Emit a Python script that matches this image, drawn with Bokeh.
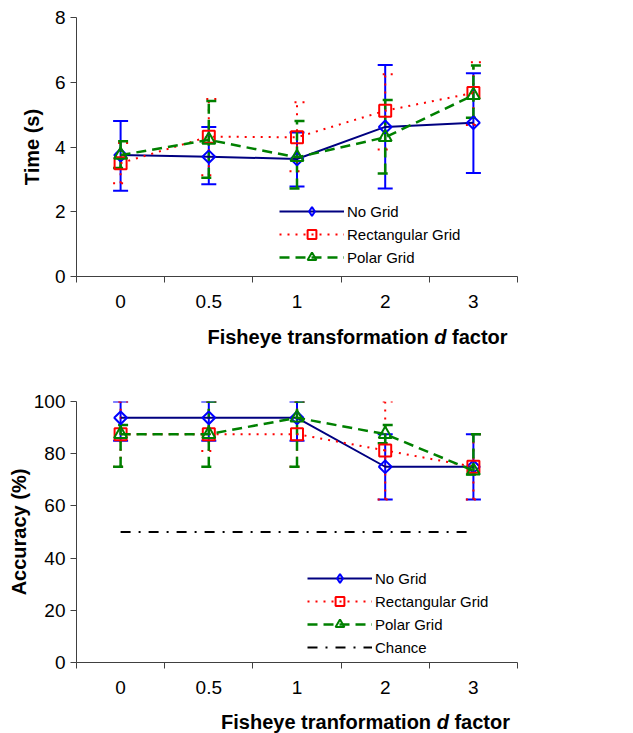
import math
from bokeh.plotting import figure
from bokeh.models import (ColumnDataSource, Whisker, TeeHead, FixedTicker, Legend,
                          LegendItem, Range1d)
from bokeh.core.properties import value
from bokeh.layouts import column
from bokeh.embed import file_html
from bokeh.resources import INLINE

# ---------------- data ----------------
d_labels = ["0", "0.5", "1", "2", "3"]

time_nogrid = [3.75, 3.70, 3.63, 4.62, 4.75]
time_nogrid_lo = [2.65, 2.85, 2.78, 2.72, 3.20]
time_nogrid_hi = [4.80, 4.62, 4.45, 6.53, 6.28]
time_rect = [3.50, 4.32, 4.30, 5.12, 5.67]
time_rect_lo = [2.88, 3.13, 3.25, 3.92, 4.68]
time_rect_hi = [4.12, 5.48, 5.38, 6.25, 6.62]
time_polar = [3.75, 4.22, 3.68, 4.30, 5.60]
time_polar_lo = [3.35, 3.05, 2.72, 3.18, 4.90]
time_polar_hi = [4.18, 5.42, 4.80, 5.45, 6.52]

acc_nogrid = [93.75, 93.75, 93.75, 75.0, 75.0]
acc_nogrid_lo = [85.0, 85.0, 85.0, 62.5, 62.5]
acc_nogrid_hi = [100.0, 100.0, 100.0, 87.5, 87.5]
acc_rect = [87.5, 87.5, 87.5, 81.25, 75.0]
acc_rect_lo = [75.0, 81.0, 75.0, 62.5, 62.5]
acc_rect_hi = [100.0, 100.0, 100.0, 100.0, 87.5]
acc_polar = [87.5, 87.5, 93.75, 87.5, 73.5]
acc_polar_lo = [75.0, 75.0, 75.0, 84.0, 72.0]
acc_polar_hi = [91.0, 100.0, 100.0, 91.0, 87.5]
acc_chance = [50.0, 50.0, 50.0, 50.0, 50.0]

time_ticks = [0, 2, 4, 6, 8]
acc_ticks = [0, 20, 40, 60, 80, 100]

series_names = ["No Grid", "Rectangular Grid", "Polar Grid", "Chance"]

# ---------------- styles / layout ----------------
FONT = "Liberation Sans"
AXIS_COLOR = "#404040"
TITLE_PX = 20
LEFT, FW, RIGHT = 76, 441, 116

STY = {
    "No Grid": dict(line="#000080", mark="#0000FF", dash="solid", lw=2, marker="square",
                    ms=9, angle=math.pi / 4, leg_marker="diamond"),
    "Rectangular Grid": dict(line="#FF0000", mark="#FF0000", dash="2 6", lw=2, marker="square",
                             ms=12, angle=0, leg_marker=None),
    "Polar Grid": dict(line="#008000", mark="#008000", dash="10 6", lw=2.5, marker="triangle",
                       ms=13, angle=0, leg_marker=None),
}

xs = list(range(len(d_labels)))


def make_fig(top, fh, bottom, ymax, yticks, ylabel, ylab_standoff):
    p = figure(frame_width=FW, frame_height=fh, min_border_left=LEFT, min_border_right=RIGHT,
               min_border_top=top, min_border_bottom=bottom,
               x_range=Range1d(-0.5, len(d_labels) - 0.5), y_range=Range1d(0, ymax),
               output_backend="svg", toolbar_location=None)
    p.outline_line_color = None
    p.grid.visible = False
    p.background_fill_color = "white"
    p.border_fill_color = "white"

    xa = p.xaxis[0]
    xa.ticker = FixedTicker(ticks=xs, minor_ticks=[i - 0.5 for i in range(len(d_labels) + 1)])
    xa.major_label_overrides = {i: lab for i, lab in zip(xs, d_labels)}
    xa.major_tick_line_color = None
    xa.major_tick_out = 6
    xa.major_tick_in = 0
    xa.minor_tick_out = 6
    xa.minor_tick_in = 0
    xa.minor_tick_line_color = AXIS_COLOR
    xa.axis_line_color = AXIS_COLOR
    xa.major_label_text_font = FONT
    xa.major_label_text_font_size = "19px"
    xa.major_label_text_color = "black"
    xa.major_label_standoff = 12

    ya = p.yaxis[0]
    ya.ticker = FixedTicker(ticks=yticks, minor_ticks=[])
    ya.major_tick_out = 6
    ya.major_tick_in = 0
    ya.major_tick_line_color = AXIS_COLOR
    ya.axis_line_color = AXIS_COLOR
    ya.major_label_text_font = FONT
    ya.major_label_text_font_size = "19px"
    ya.major_label_text_color = "black"
    ya.major_label_standoff = 5
    ya.axis_label = ylabel
    ya.axis_label_text_font = FONT
    ya.axis_label_text_font_style = "bold"
    ya.axis_label_text_font_size = f"{TITLE_PX}px"
    ya.axis_label_text_color = "black"
    ya.axis_label_standoff = ylab_standoff
    return p


def add_series(p, name, y, lo, hi, items):
    s = STY[name]
    src = ColumnDataSource(dict(x=xs, y=y, lo=lo, hi=hi))
    w = Whisker(source=src, base="x", upper="hi", lower="lo", dimension="height",
                line_color=s["mark"], line_width=s["lw"], line_dash=s["dash"],
                upper_head=TeeHead(size=15, line_color=s["mark"], line_width=s["lw"], line_dash=s["dash"]),
                lower_head=TeeHead(size=15, line_color=s["mark"], line_width=s["lw"], line_dash=s["dash"]))
    p.add_layout(w)
    lr = p.line("x", "y", source=src, line_color=s["line"], line_width=s["lw"], line_dash=s["dash"])
    sr = p.scatter("x", "y", source=src, marker=s["marker"], size=s["ms"], angle=s["angle"],
                   fill_color=None, line_color=s["mark"], line_width=2)
    if s["leg_marker"]:
        # legend-only marker (the legend does not rotate markers); no visible data point
        proxy = p.scatter(x=[xs[0]], y=[float("nan")], marker=s["leg_marker"], size=s["ms"],
                          fill_color=None, line_color=s["mark"], line_width=2)
        items.append(LegendItem(label=name, renderers=[lr, proxy]))
    else:
        items.append(LegendItem(label=name, renderers=[lr, sr]))


def add_legend(p, items, loc):
    leg = Legend(items=items, location=loc, glyph_width=65, glyph_height=22, label_height=22,
                 spacing=1, padding=0, margin=0, border_line_color=None,
                 background_fill_alpha=0, label_text_font=FONT, label_text_font_size="15px",
                 label_standoff=3, label_text_color="black")
    p.add_layout(leg)


# Liberation Sans Bold (Arial-compatible) advance widths, per 1000 em
ADV = {"F": 611, "i": 278, "s": 556, "h": 611, "e": 556, "y": 556, " ": 278, "t": 333,
       "r": 389, "a": 556, "n": 611, "f": 333, "o": 611, "m": 889, "d": 611, "c": 556}


def text_w(txt, size):
    return sum(ADV[ch] for ch in txt) * size / 1000.0


def title_fig(first, cx, height, cy, size=TITLE_PX):
    # x range expressed in page pixels of the frame, so text positions are in page pixels
    t = figure(frame_width=FW, frame_height=height, min_border_left=LEFT, min_border_right=RIGHT,
               min_border_top=0, min_border_bottom=0,
               x_range=Range1d(LEFT, LEFT + FW), y_range=Range1d(height, 0),
               x_axis_type=None, y_axis_type=None,
               output_backend="svg", toolbar_location=None)
    t.outline_line_color = None
    t.grid.visible = False
    t.background_fill_color = "white"
    t.border_fill_color = "white"
    w1, wd, ws, w3 = text_w(first, size), text_w("d", size), text_w(" ", size), text_w("factor", size)
    total = w1 + ws + wd + ws + w3
    left = cx - total / 2
    common = dict(text_font=value(FONT), text_font_size=value(f"{size}px"),
                  text_baseline="middle", text_color="black")
    t.text(x=[left], y=[cy], text=[first], text_align="left",
           text_font_style=value("bold"), **common)
    t.text(x=[left + w1 + ws], y=[cy], text=["d"], text_align="left",
           text_font_style=value("bold italic"), **common)
    t.text(x=[left + w1 + ws + wd + ws], y=[cy], text=["factor"], text_align="left",
           text_font_style=value("bold"), **common)
    return t


# ---------------- top chart ----------------
p1 = make_fig(17, 259, 42, 8, time_ticks, "Time (s)", 9)
items1 = []
add_series(p1, "No Grid", time_nogrid, time_nogrid_lo, time_nogrid_hi, items1)
add_series(p1, "Rectangular Grid", time_rect, time_rect_lo, time_rect_hi, items1)
add_series(p1, "Polar Grid", time_polar, time_polar_lo, time_polar_hi, items1)
add_legend(p1, items1, (203, 8))
t1 = title_fig("Fisheye transformation", 357, 42, 18)

# ---------------- bottom chart ----------------
p2 = make_fig(41, 261, 42, 100, acc_ticks, "Accuracy (%)", 1)
items2 = []
add_series(p2, "No Grid", acc_nogrid, acc_nogrid_lo, acc_nogrid_hi, items2)
add_series(p2, "Rectangular Grid", acc_rect, acc_rect_lo, acc_rect_hi, items2)
add_series(p2, "Polar Grid", acc_polar, acc_polar_lo, acc_polar_hi, items2)
src_ch = ColumnDataSource(dict(x=xs, y=acc_chance))
lch = p2.line("x", "y", source=src_ch, line_color="black", line_width=2, line_dash="10 8 2 8")
items2.append(LegendItem(label="Chance", renderers=[lch]))
add_legend(p2, items2, (231, 4))
t2 = title_fig("Fisheye tranformation", 365, 29, 17)

layout = column(p1, t1, p2, t2, spacing=0)
open("out.html", "w").write(file_html(layout, INLINE))
